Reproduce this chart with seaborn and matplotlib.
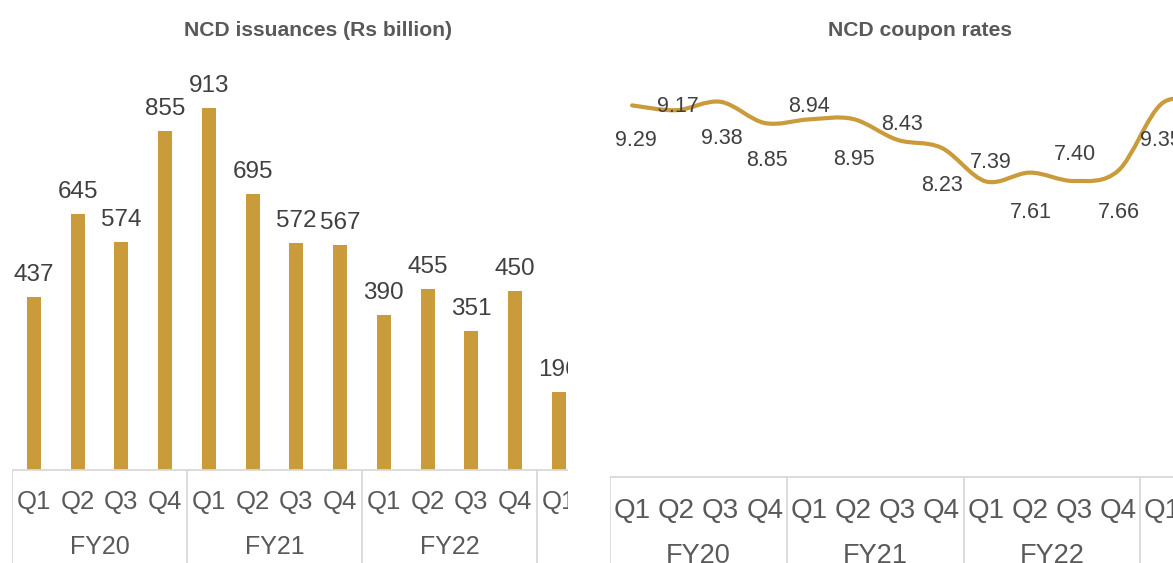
import numpy as np
import pandas as pd
import matplotlib
matplotlib.use('Agg')
import matplotlib.pyplot as plt
from matplotlib.path import Path
from matplotlib.patches import PathPatch
import seaborn as sns

# data
quarters = ['Q1', 'Q2', 'Q3', 'Q4'] * 4
years = ['FY20', 'FY21', 'FY22', 'FY23']
issuances = [437, 645, 574, 855, 913, 695, 572, 567, 390, 455, 351, 450, 196]
coupon_rates = [9.29, 9.17, 9.38, 8.85, 8.94, 8.95, 8.43, 8.23, 7.39, 7.61, 7.40, 7.66, 9.35, 9.30]

sns.set_style('white')
plt.rcParams['font.family'] = ['Liberation Sans', 'DejaVu Sans']

gold = '#C99B3B'
txt = '#404040'
axis_txt = '#595959'
grid_c = '#D9D9D9'

W, H = 1173, 563
fig = plt.figure(figsize=(W / 100, H / 100), dpi=100)


def px_axes(x0, x1, ytop, ybot):
    return fig.add_axes([x0 / W, 1 - ybot / H, (x1 - x0) / W, (ybot - ytop) / H])


def cat_axis(ax, n, ylo, q_off, fy_off, q_fs, fy_fs):
    # horizontal axis line, separators and two-level category labels
    ax.axhline(0, color=grid_c, lw=1.3)
    for s in range(0, 17, 4):
        ax.plot([s - 0.5, s - 0.5], [0, ylo], color=grid_c, lw=1.3, clip_on=True)
    for i in range(n):
        ax.annotate(quarters[i], (i, 0), xytext=(0, q_off), textcoords='offset pixels',
                    ha='center', va='baseline', fontsize=q_fs, color=axis_txt, clip_on=True)
    for j, fy in enumerate(years):
        ax.annotate(fy, (j * 4 + 1.5, 0), xytext=(0, fy_off), textcoords='offset pixels',
                    ha='center', va='baseline', fontsize=fy_fs, color=axis_txt, clip_on=True)


# ---- left: NCD issuances (bars)
ax1 = px_axes(12, 568, 60, 563)
df1 = pd.DataFrame({'period': [f'{q} {years[i // 4]}' for i, q in enumerate(quarters[:len(issuances)])],
                    'value': issuances})
sns.barplot(data=df1, x='period', y='value', ax=ax1, color=gold, width=0.32,
            saturation=1, linewidth=0)
k1 = 0.397
ylo1 = -(563 - 470) / k1
ax1.set_xlim(-0.5, -0.5 + 556 / 43.75)
ax1.set_ylim(ylo1, (470 - 60) / k1)
for i, v in enumerate(issuances):
    ax1.annotate(str(v), (i, v), xytext=(0, 16), textcoords='offset pixels',
                 ha='center', va='baseline', fontsize=17.5, color=txt, clip_on=True)
cat_axis(ax1, len(issuances), ylo1, -39, -84, 18.5, 18)
ax1.axis('off')
for a in ax1.patches:
    a.set_clip_on(True)
fig.text(318 / W, 1 - 30 / H, 'NCD issuances (Rs billion)', ha='center', va='center',
         fontsize=15.2, fontweight='bold', color=axis_txt)

# ---- right: NCD coupon rates (smoothed line)
ax2 = px_axes(610, 1173, 60, 563)
k2 = 40
ylo2 = -(563 - 477) / k2
ax2.set_xlim(-0.5, -0.5 + 563 / 44.2)
ax2.set_ylim(ylo2, (477 - 60) / k2)

pts = np.column_stack([np.arange(len(coupon_rates)), coupon_rates]).astype(float)
ext = np.vstack([pts[0], pts, pts[-1]])
verts = [tuple(pts[0])]
codes = [Path.MOVETO]
for i in range(len(pts) - 1):
    p0, p1, p2, p3 = ext[i], ext[i + 1], ext[i + 2], ext[i + 3]
    c1 = p1 + (p2 - p0) / 6
    c2 = p2 - (p3 - p1) / 6
    verts += [tuple(c1), tuple(c2), tuple(p2)]
    codes += [Path.CURVE4] * 3
ax2.add_patch(PathPatch(Path(verts, codes), fill=False, edgecolor=gold, lw=3,
                        capstyle='round', joinstyle='round'))

# label offsets in pixels (dx, dy of label centre, + is below the line)
lab_dx = [4, 2, 1, 2, 0, 1, 5, 1, 5, 1, 1, 1, -2, 0]
lab_dy = [33, -6, 34, 35, -15, 38, -18, 35, -21, 38, -29, 40, 35, 35]
for i, v in enumerate(coupon_rates):
    ax2.annotate(f'{v:.2f}', (i, v), xytext=(lab_dx[i], -(lab_dy[i] + 7.7)),
                 textcoords='offset pixels', ha='center', va='baseline',
                 fontsize=15.5, color=txt, clip_on=True)
cat_axis(ax2, len(coupon_rates), ylo2, -41, -86, 20, 19.5)
ax2.axis('off')
fig.text(920 / W, 1 - 30 / H, 'NCD coupon rates', ha='center', va='center',
         fontsize=15.2, fontweight='bold', color=axis_txt)

fig.savefig('out.png', dpi=100)
